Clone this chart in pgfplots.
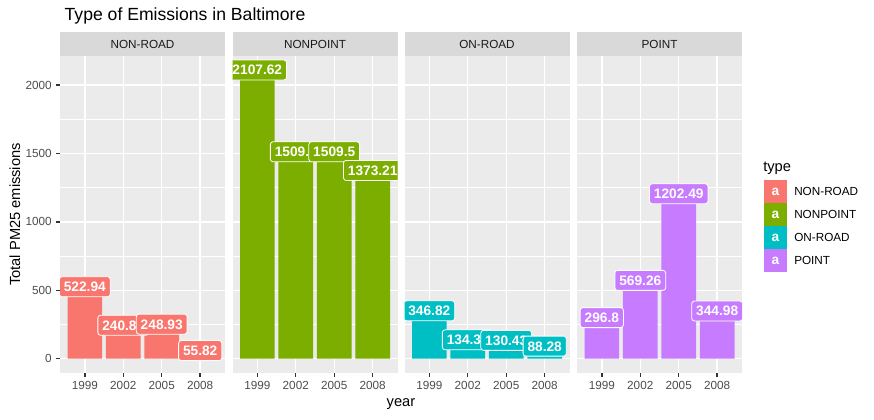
\documentclass[border=0pt]{standalone}
\usepackage{pgfplots}
\pgfplotsset{compat=1.18}
\usepackage{pgfplotstable}
\usepackage{fontspec}
\setmainfont{Liberation Sans}
\definecolor{cNR}{HTML}{F8766D}
\definecolor{cNP}{HTML}{7CAE00}
\definecolor{cOR}{HTML}{00BFC4}
\definecolor{cPT}{HTML}{C77CFF}
\definecolor{ggbg}{HTML}{EBEBEB}
\definecolor{ggstrip}{HTML}{D9D9D9}
\definecolor{ggtick}{HTML}{4D4D4D}
\definecolor{gg20}{HTML}{333333}
\definecolor{gg10}{HTML}{1A1A1A}

\pgfplotstableread{
year value label
1999 522.94 522.94
2002 240.85 240.85
2005 248.93 248.93
2008 55.82 55.82
}\nonroad
\pgfplotstableread{
year value label
1999 2107.62 2107.62
2002 1509.5 1509.5
2005 1509.5 1509.5
2008 1373.21 1373.21
}\nonpoint
\pgfplotstableread{
year value label
1999 346.82 346.82
2002 134.31 134.31
2005 130.43 130.43
2008 88.28 88.28
}\onroad
\pgfplotstableread{
year value label
1999 296.8 296.8
2002 569.26 569.26
2005 1202.49 1202.49
2008 344.98 344.98
}\point

\tikzset{
  lab/.style={text=white, font=\fontsize{10.3}{12}\selectfont\bfseries,
    draw=white, line width=0.6pt, rounded corners=2pt,
    inner xsep=3.3pt, inner ysep=3.3pt, text height=7.9pt, text depth=0.5pt,
    yshift=-7.5pt},
}
\pgfplotsset{
  panel/.style={
    width=123.75pt, height=237.75pt, scale only axis,
    xmin=1997.065, xmax=2009.935, ymin=-105.38, ymax=2213.0,
    anchor=south west,
  },
  deco/.style={
    panel,
    axis background/.style={fill=ggbg},
    axis line style={draw=none},
    xtick={1999,2002,2005,2008},
    ytick={0,500,1000,1500,2000},
    minor ytick={250,750,1250,1750},
    xmajorgrids, ymajorgrids, yminorgrids,
    major grid style={white, line width=1.07pt},
    minor grid style={white, line width=0.53pt},
    minor tick length=0pt,
    tick align=outside, tick pos=left,
    major tick length=2.75pt,
    tick style={gg20, line width=1.07pt},
    ticklabel style={font=\fontsize{8.8}{10}\selectfont, text=ggtick},
    /pgf/number format/assume math mode=true,
    /pgf/number format/1000 sep={},
  },
}

\newcommand{\panel}[5]{%
  \begin{axis}[deco, at={(#1,34.5pt)}, #5]
    \addplot[ybar, bar width=2.7, fill=#3, draw=none] table[x=year,y=value]{#2};
  \end{axis}
  \begin{scope}
    \clip (#1,34.5pt) rectangle ++(123.75pt,237.75pt);
    \begin{axis}[panel, hide axis, at={(#1,34.5pt)}]
      \addplot[mark=none, draw=none, nodes near coords, point meta=explicit symbolic,
        nodes near coords style={lab, fill=#3}] table[x=year,y=value,meta=label]{#2};
    \end{axis}
  \end{scope}
  \fill[ggstrip] (#1,272.25pt) rectangle ++(123.75pt,18pt);
  \node[text=gg10, font=\fontsize{8.8}{10}\selectfont] at ([xshift=61.875pt]#1,281.25pt) {#4};
}

\begin{document}
\begin{tikzpicture}
\path[use as bounding box] (0,0) rectangle (655.5pt,314.25pt);
\panel{45pt}{\nonroad}{cNR}{NON-ROAD}{}
\panel{174.375pt}{\nonpoint}{cNP}{NONPOINT}{yticklabels={}, ytick style={draw=none}}
\panel{303.375pt}{\onroad}{cOR}{ON-ROAD}{yticklabels={}, ytick style={draw=none}}
\panel{432.75pt}{\point}{cPT}{POINT}{yticklabels={}, ytick style={draw=none}}
% titles
\node[anchor=base west, font=\fontsize{13.2}{15}\selectfont] at (45pt,298.5pt) {Type of Emissions in Baltimore};
\node[rotate=90, font=\fontsize{11}{13}\selectfont] at (11.25pt,153.4pt) {Total PM25 emissions};
\node[anchor=base, font=\fontsize{11}{13}\selectfont] at (300.75pt,9.75pt) {year};
% legend
\node[anchor=base west, font=\fontsize{11}{13}\selectfont, inner sep=0pt] at (572.25pt,186pt) {type};
\foreach \c/\t [count=\i from 0] in {cNR/NON-ROAD,cNP/NONPOINT,cOR/ON-ROAD,cPT/POINT}{
  \fill[\c] (573pt,{(239-23*\i)*0.75pt}) rectangle ++(17.25pt,-17.25pt);
  \node[text=white, font=\fontsize{10.3}{12}\selectfont\bfseries] at (581.6pt,{(239-23*\i)*0.75pt-8.625pt}) {a};
  \node[anchor=west, font=\fontsize{8.8}{10}\selectfont, inner sep=0pt] at (595.5pt,{(239-23*\i)*0.75pt-8.625pt}) {\t};
}
\end{tikzpicture}
\end{document}
